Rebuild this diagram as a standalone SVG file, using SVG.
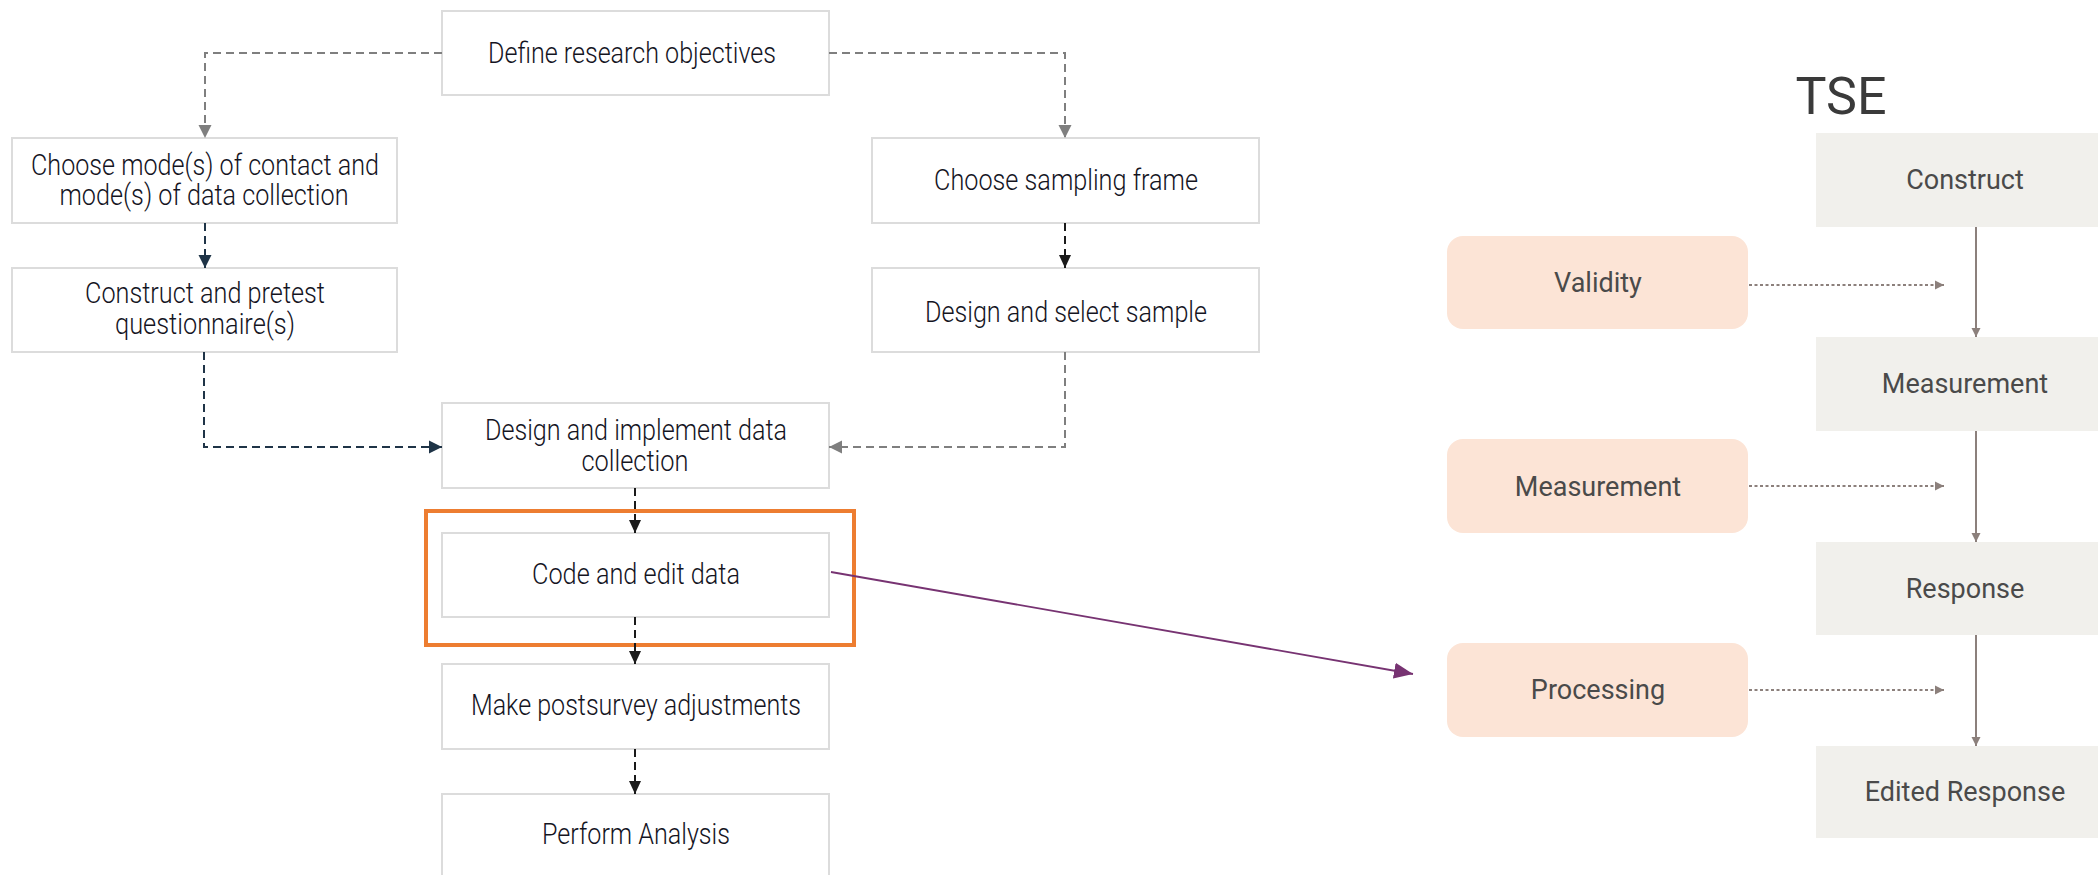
<svg xmlns="http://www.w3.org/2000/svg" width="2098" height="875" viewBox="0 0 2098 875">
<style>
.box{fill:#ffffff;stroke:#dcdcdc;stroke-width:2}
.lt{font-family:Roboto,"Liberation Sans",sans-serif;font-size:29px;font-weight:300;fill:#15151f;text-anchor:middle}
.rt{font-family:Roboto,"Liberation Sans",sans-serif;font-size:27px;fill:#4a4a4a;text-anchor:middle}
.gbox{fill:#f1f0ec}
.pbox{fill:#fce4d6}
.dg{fill:none;stroke:#7f7f7f;stroke-width:2;stroke-dasharray:8 5}
.dn{fill:none;stroke:#1f3447;stroke-width:2;stroke-dasharray:8 5}
.dk{fill:none;stroke:#1a1a1a;stroke-width:2;stroke-dasharray:8 5}
.dot{fill:none;stroke:#8c807c;stroke-width:1.8;stroke-dasharray:3 2.5}
.sol{fill:none;stroke:#8c807c;stroke-width:2}
</style>
<defs>
<marker id="aG" markerUnits="userSpaceOnUse" markerWidth="14" markerHeight="14" refX="13" refY="7" orient="auto"><path d="M0,0.5 L13,7 L0,13.5 Z" fill="#7f7f7f"/></marker>
<marker id="aN" markerUnits="userSpaceOnUse" markerWidth="14" markerHeight="14" refX="13" refY="7" orient="auto"><path d="M0,0.5 L13,7 L0,13.5 Z" fill="#1f3447"/></marker>
<marker id="aK" markerUnits="userSpaceOnUse" markerWidth="14" markerHeight="14" refX="13" refY="7" orient="auto"><path d="M0,1 L13,7 L0,13 Z" fill="#1a1a1a"/></marker>
<marker id="aB" markerUnits="userSpaceOnUse" markerWidth="10" markerHeight="10" refX="9" refY="5" orient="auto"><path d="M0,0.5 L9,5 L0,9.5 Z" fill="#8c807c"/></marker>
<marker id="aP" markerUnits="userSpaceOnUse" markerWidth="20" markerHeight="18" refX="19" refY="9" orient="auto"><path d="M0,1 L19,9 L0,17 Z" fill="#773372"/></marker>
</defs>
<rect width="2098" height="875" fill="#ffffff"/>

<g id="n-define"><rect class="box" x="442" y="11" width="387" height="84"/><text class="lt" x="632" y="63" textLength="288" lengthAdjust="spacingAndGlyphs">Define research objectives</text></g>
<g id="n-mode"><rect class="box" x="12" y="138" width="385" height="85"/><text class="lt" x="205" y="175" textLength="348" lengthAdjust="spacingAndGlyphs">Choose mode(s) of contact and</text><text class="lt" x="204" y="205" textLength="289" lengthAdjust="spacingAndGlyphs">mode(s) of data collection</text></g>
<g id="n-quest"><rect class="box" x="12" y="268" width="385" height="84"/><text class="lt" x="205" y="303" textLength="240" lengthAdjust="spacingAndGlyphs">Construct and pretest</text><text class="lt" x="205" y="334" textLength="180" lengthAdjust="spacingAndGlyphs">questionnaire(s)</text></g>
<g id="n-frame"><rect class="box" x="872" y="138" width="387" height="85"/><text class="lt" x="1066" y="190" textLength="264" lengthAdjust="spacingAndGlyphs">Choose sampling frame</text></g>
<g id="n-sample"><rect class="box" x="872" y="268" width="387" height="84"/><text class="lt" x="1066" y="322" textLength="282" lengthAdjust="spacingAndGlyphs">Design and select sample</text></g>
<g id="n-collect"><rect class="box" x="442" y="403" width="387" height="85"/><text class="lt" x="636" y="440" textLength="302" lengthAdjust="spacingAndGlyphs">Design and implement data</text><text class="lt" x="635" y="471" textLength="107" lengthAdjust="spacingAndGlyphs">collection</text></g>
<g id="n-code"><rect class="box" x="442" y="533" width="387" height="84"/><text class="lt" x="636" y="584" textLength="208" lengthAdjust="spacingAndGlyphs">Code and edit data</text></g>
<g id="n-adjust"><rect class="box" x="442" y="664" width="387" height="85"/><text class="lt" x="636" y="715" textLength="330" lengthAdjust="spacingAndGlyphs">Make postsurvey adjustments</text></g>
<g id="n-analysis"><rect class="box" x="442" y="794" width="387" height="100"/><text class="lt" x="636" y="844" textLength="188" lengthAdjust="spacingAndGlyphs">Perform Analysis</text></g>
<g id="n-highlight"><rect x="426" y="511" width="428" height="134" fill="none" stroke="#ed7d31" stroke-width="4"/></g>

<g id="n-tse-title"><text x="1841" y="114" font-family="Roboto,'Liberation Sans',sans-serif" font-size="52" fill="#3a3a3a" text-anchor="middle">TSE</text></g>
<g id="n-construct"><rect class="gbox" x="1816" y="133" width="300" height="94"/><text class="rt" x="1965" y="189">Construct</text></g>
<g id="n-measurement"><rect class="gbox" x="1816" y="337" width="300" height="94"/><text class="rt" x="1965" y="393">Measurement</text></g>
<g id="n-response"><rect class="gbox" x="1816" y="542" width="300" height="93"/><text class="rt" x="1965" y="598">Response</text></g>
<g id="n-edited"><rect class="gbox" x="1816" y="746" width="300" height="92"/><text class="rt" x="1965" y="801">Edited Response</text></g>
<g id="n-validity"><rect class="pbox" x="1447" y="236" width="301" height="93" rx="16"/><text class="rt" x="1598" y="292">Validity</text></g>
<g id="n-measerr"><rect class="pbox" x="1447" y="439" width="301" height="94" rx="16"/><text class="rt" x="1598" y="496">Measurement</text></g>
<g id="n-processing"><rect class="pbox" x="1447" y="643" width="301" height="94" rx="16"/><text class="rt" x="1598" y="699">Processing</text></g>

<g id="connectors">
<path class="dg" d="M442,53 H205 V138" marker-end="url(#aG)"/>
<path class="dg" d="M829,53 H1065 V138" marker-end="url(#aG)"/>
<path class="dn" d="M205,223 V268" marker-end="url(#aN)"/>
<path class="dk" d="M1065,223 V268" marker-end="url(#aK)"/>
<path class="dn" d="M204,352 V447 H442" marker-end="url(#aN)"/>
<path class="dg" d="M1065,352 V447 H829" marker-end="url(#aG)"/>
<path class="dk" d="M635,488 V533" marker-end="url(#aK)"/>
<path class="dk" d="M635,617 V664" marker-end="url(#aK)"/>
<path class="dk" d="M635,749 V794" marker-end="url(#aK)"/>
<path d="M831,572 L1413,674" fill="none" stroke="#773372" stroke-width="1.8" marker-end="url(#aP)"/>
<path class="sol" d="M1976,227 V337" marker-end="url(#aB)"/>
<path class="sol" d="M1976,431 V542" marker-end="url(#aB)"/>
<path class="sol" d="M1976,635 V746" marker-end="url(#aB)"/>
<path class="dot" d="M1749,285 H1944" marker-end="url(#aB)"/>
<path class="dot" d="M1749,486 H1944" marker-end="url(#aB)"/>
<path class="dot" d="M1749,690 H1944" marker-end="url(#aB)"/>
</g>
</svg>
